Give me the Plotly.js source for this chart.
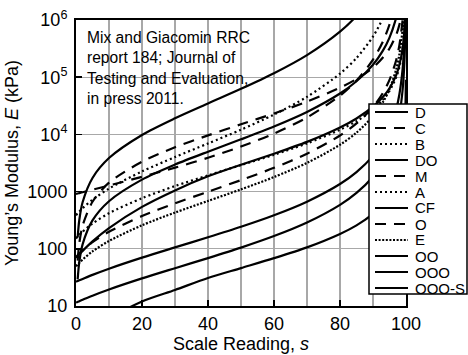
<!DOCTYPE html>
<html>
<head>
<meta charset="utf-8">
<script src="https://cdn.plot.ly/plotly-3.0.1.min.js"></script>
<style>html,body{margin:0;padding:0;background:#fff;}#chart{width:468px;height:355px;}</style>
</head>
<body>
<div id="chart"></div>
<script>
// Scale reading (shared x values)
const S = [0, 0.5, 1, 2, 5, 10, 20, 30, 40, 50, 60, 70, 80, 85, 90, 93, 95, 97, 98, 99, 99.5, 99.8, 99.95];

// Young's modulus (kPa), per durometer type
const E_D    = [null, 158, 319, 651, 1732, 3860, 9772, 19145, 34744, 62540, 117260, 243210, 625400, 1180000, 2800000, null, null, null, null, null, null, null, null];
const E_C    = [null, 62, 125, 253, 664, 1431, 3325, 5957, 9609, 15043, 23231, 37338, 65634, 92940, 147290, 221060, 317660, 545800, 827000, 1660000, null, null, null];
const E_B    = [387, 417, 449, 513, 721, 1129, 2253, 4020, 6937, 12100, 22204, 45337, 115198, 216524, 513555, 1080000, 2160000, null, null, null, null, null, null];
const E_DO   = [null, 29.2, 58.9, 119.5, 313, 679, 1621, 2970, 4990, 8198, 13750, 24701, 51858, 84834, 165020, 291137, 492650, 1082000, 2000000, null, null, null, null];
const E_M    = [912, 927, 943, 975, 1079, 1278, 1812, 2619, 3908, 6123, 10342, 19761, 47557, 87297, 202608, 421075, 835176, 2350000, null, null, null, null, null];
const E_A    = [152, 163, 175.5, 199.6, 276, 419, 767, 1251, 1919, 2911, 4399, 6960, 12090, 17035, 26880, 40240, 57740, 98000, 150000, 302800, 606000, 1500000, null];
const E_CF   = [70, 75, 80, 92, 135, 230, 540, 1050, 1850, 2950, 4600, 7400, 13200, 19000, 30500, 45000, 64000, 108000, 165000, 330000, 660000, 1600000, null];
const E_O    = [71.7, 77.2, 82.8, 94.1, 130.3, 198.6, 373.7, 623.5, 996, 1586, 2603, 4604, 9552, 15549, 30112, 53000, 89542, 196430, 364360, 1040000, 2900000, null, null];
const E_E    = [49.5, 53.3, 57.1, 64.9, 89.9, 137, 257.8, 430, 687, 1094, 1796, 3176, 6590, 10727, 20774, 36565, 61775, 135519, 251370, 717500, 2000000, null, null];
const E_OO   = [26.5, 27.3, 28.1, 29.7, 35.0, 44.9, 70.1, 105.9, 158.9, 242.4, 385.5, 665.7, 1355, 2189, 4208, 7377, 12432, 27206, 50406, 143737, 408200, 1620000, null];
const E_OOO  = [11.47, 11.8, 12.16, 12.86, 15.15, 19.44, 30.35, 45.84, 68.8, 104.9, 166.9, 288.2, 586.6, 947.6, 1822, 3194, 5382, 11778, 21821, 62225, 176700, 700000, 5600000];
const E_OOOS = [0.73, 0.96, 1.18, 1.66, 3.11, 5.75, 12.0, 19.1, 30.9, 46.0, 68.6, 106, 182, 257, 408, 602, 866, 1463, 2217, 4474, 8960, 22400, 90400];

const NAMES  = ['D', 'C', 'B', 'DO', 'M', 'A', 'CF', 'O', 'E', 'OO', 'OOO', 'OOO-S'];
const SERIES = [E_D, E_C, E_B, E_DO, E_M, E_A, E_CF, E_O, E_E, E_OO, E_OOO, E_OOOS];

const X_TICKS = [0, 20, 40, 60, 80, 100];
const Y_TICKS = [10, 100, 1000, 10000, 100000, 1000000];
const Y_TICKTEXT = ['10', '100', '1000', '10<sup>4</sup>', '10<sup>5</sup>', '10<sup>6</sup>'];

const NOTE = 'Mix and Giacomin RRC<br>report 184; Journal of<br>Testing and Evaluation,<br>in press 2011.';

// styles
const DASH = {
  'D': 'solid', 'C': '11px,8px', 'B': '2px,3px', 'DO': 'solid', 'M': '11px,8px', 'A': '2px,3px',
  'CF': 'solid', 'O': '11px,8px', 'E': '2px,1.6px', 'OO': 'solid', 'OOO': 'solid', 'OOO-S': 'solid'
};
const FONT = 'Liberation Sans, Arial, Helvetica, sans-serif';

const traces = NAMES.map((n, i) => ({
  type: 'scatter', mode: 'lines', name: n, x: S, y: SERIES[i],
  line: {color: '#000', width: 2.2, dash: DASH[n], shape: 'spline', smoothing: 0.8},
  connectgaps: false, showlegend: false, hoverinfo: 'skip'
}));

// plot area geometry in px (for paper-coordinate conversions)
const L = 76, R = 62, T = 20, B = 49, W = 468, H = 355;
const pw = W - L - R, ph = H - T - B;
const px2x = p => (p - L) / pw;
const py2y = p => (H - B - p) / ph;

const shapes = [
  // white box behind the note (covers gridlines only)
  {type: 'rect', xref: 'x', yref: 'paper', x0: 0.3, x1: 56, y0: py2y(100), y1: py2y(25),
   fillcolor: '#fff', line: {width: 0}, layer: 'between'},
  // legend box
  {type: 'rect', xref: 'paper', yref: 'paper', x0: px2x(369), x1: px2x(467), y0: py2y(294), y1: py2y(104),
   fillcolor: '#fff', line: {color: '#000', width: 1.5}, layer: 'above'}
];
const annotations = [
  {xref: 'paper', yref: 'paper', x: 0, y: 1, xshift: 9, yshift: -7, xanchor: 'left', yanchor: 'top',
   align: 'left', showarrow: false, text: NOTE, font: {family: FONT, size: 15.6, color: '#000'}}
];
NAMES.forEach((n, i) => {
  const yy = py2y(112 + 16 * i);
  shapes.push({type: 'line', xref: 'paper', yref: 'paper', x0: px2x(375), x1: px2x(408), y0: yy, y1: yy,
    line: {color: '#000', width: 2.2, dash: DASH[n]}, layer: 'above'});
  annotations.push({xref: 'paper', yref: 'paper', x: px2x(413), y: yy, xanchor: 'left', yanchor: 'middle',
    showarrow: false, text: n, font: {family: FONT, size: 15, color: '#000'}});
});

const layout = {
  width: W, height: H,
  margin: {l: L, r: R, t: T, b: B},
  paper_bgcolor: '#fff', plot_bgcolor: '#fff',
  font: {family: FONT, size: 18, color: '#000'},
  showlegend: false,
  xaxis: {
    range: [0, 100], tickvals: X_TICKS, ticktext: X_TICKS.map(String),
    showgrid: true, gridcolor: '#a8a8a8', gridwidth: 1.3,
    minor: {dtick: 10, tick0: 0, showgrid: true, gridcolor: '#a8a8a8', gridwidth: 1.3, ticks: ''},
    showline: true, linecolor: '#000', linewidth: 2, mirror: true,
    ticks: 'inside', ticklen: 6, tickwidth: 1.5, tickcolor: '#000',
    zeroline: false, automargin: false,
    tickfont: {family: FONT, size: 18},
    title: {text: 'Scale Reading, <i>s</i>', font: {family: FONT, size: 18}, standoff: 2}
  },
  yaxis: {
    type: 'log', range: [1, 6], tickvals: Y_TICKS, ticktext: Y_TICKTEXT,
    showgrid: true, gridcolor: '#a8a8a8', gridwidth: 1.3,
    showline: true, linecolor: '#000', linewidth: 2, mirror: true,
    ticks: 'inside', ticklen: 6, tickwidth: 1.5, tickcolor: '#000',
    zeroline: false, automargin: false, ticklabelstandoff: 3,
    tickfont: {family: FONT, size: 18},
    title: {text: 'Young\u2019s Modulus, <i>E</i> (kPa)', font: {family: FONT, size: 18}, standoff: 4}
  },
  shapes: shapes,
  annotations: annotations
};

Plotly.newPlot('chart', traces, layout, {staticPlot: true, displayModeBar: false});
</script>
</body>
</html>
